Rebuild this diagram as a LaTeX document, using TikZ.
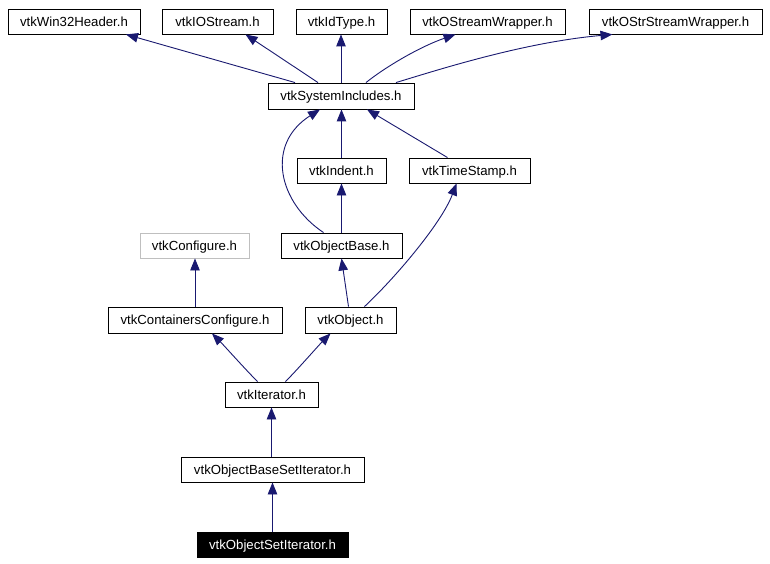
\documentclass[tikz,border=0pt]{standalone}
\usepackage{fontspec}
\setmainfont{Liberation Sans}
\usetikzlibrary{arrows.meta}
\definecolor{edgeblue}{HTML}{191970}
\begin{document}
\begin{tikzpicture}[x=1pt,y=-1pt,
  box/.style={draw=black,line width=0.9pt,rectangle,inner sep=0pt,minimum height=25pt,text depth=0pt,font=\fontsize{13.2}{15}\selectfont,text=black},
  graybox/.style={box,draw=black!25},
  blackbox/.style={box,fill=black,text=white},
  dep/.style={draw=edgeblue,line width=0.9pt,-{Triangle[length=12pt,width=9.5pt]}}]
\useasboundingbox[fill=white] (0,0) rectangle (770,564);
% top row
\node[box,minimum width=132pt] (win) at (74,21.5) {vtkWin32Header.h};
\node[box,minimum width=111pt] (ios) at (217.5,21.5) {vtkIOStream.h};
\node[box,minimum width=91pt] (idt) at (341.5,21.5) {vtkIdType.h};
\node[box,minimum width=155pt] (osw) at (487.5,21.5) {vtkOStreamWrapper.h};
\node[box,minimum width=173pt] (ossw) at (675.5,21.5) {vtkOStrStreamWrapper.h};
% system includes
\node[box,minimum width=146pt,minimum height=26pt] (sys) at (341,96) {vtkSystemIncludes.h};
\node[box,minimum width=89pt] (ind) at (341.5,170.5) {vtkIndent.h};
\node[box,minimum width=121pt] (ts) at (469.5,170.5) {vtkTimeStamp.h};
\node[graybox,minimum width=109pt] (cfg) at (194.5,245.5) {vtkConfigure.h};
\node[box,minimum width=121pt] (ob) at (341.5,245.5) {vtkObjectBase.h};
\node[box,minimum width=174pt,minimum height=26pt] (cc) at (195,320) {vtkContainersConfigure.h};
\node[box,minimum width=91pt,minimum height=26pt] (obj) at (350.5,320) {vtkObject.h};
\node[box,minimum width=93pt] (it) at (271.5,394.5) {vtkIterator.h};
\node[box,minimum width=183pt] (obsi) at (272.5,469.5) {vtkObjectBaseSetIterator.h};
\node[blackbox,minimum width=151pt] (osi) at (272.5,544.5) {vtkObjectSetIterator.h};
% edges
\draw[dep] ([xshift=-46pt]sys.north) -- ([xshift=52pt]win.south);
\draw[dep] ([xshift=-23pt]sys.north) -- ([xshift=28pt]ios.south);
\draw[dep] (sys.north) -- (sys.north |- idt.south);
\draw[dep] ([xshift=25pt]sys.north) .. controls +(20,-16) and +(-35,12) .. ([xshift=-32pt]osw.south);
\draw[dep] ([xshift=55pt]sys.north) .. controls +(40,-12) and +(-90,8) .. ([xshift=-63pt]ossw.south);
\draw[dep] (ind.north) -- (ind.north |- sys.south);
\draw[dep] ([xshift=-18pt]ob.north) .. controls +(-45,-30) and +(-55,35) .. ([xshift=-21pt]sys.south);
\draw[dep] ([xshift=-22pt]ts.north) -- ([xshift=26pt]sys.south);
\draw[dep] (ob.north) -- (ob.north |- ind.south);
\draw[dep] ([xshift=-2pt]obj.north) -- (ob.south);
\draw[dep] ([xshift=14pt]obj.north) .. controls +(30,-28) and +(-15,40) .. ([xshift=-13pt]ts.south);
\draw[dep] (cc.north) -- (cc.north |- cfg.south);
\draw[dep] ([xshift=-14pt]it.north) .. controls +(-12,-12) and +(12,12) .. ([xshift=17pt]cc.south);
\draw[dep] ([xshift=14pt]it.north) .. controls +(12,-12) and +(-12,12) .. ([xshift=-20pt]obj.south);
\draw[dep] (it.south |- obsi.north) -- (it.south);
\draw[dep] (osi.north) -- (obsi.south);
\end{tikzpicture}
\end{document}
